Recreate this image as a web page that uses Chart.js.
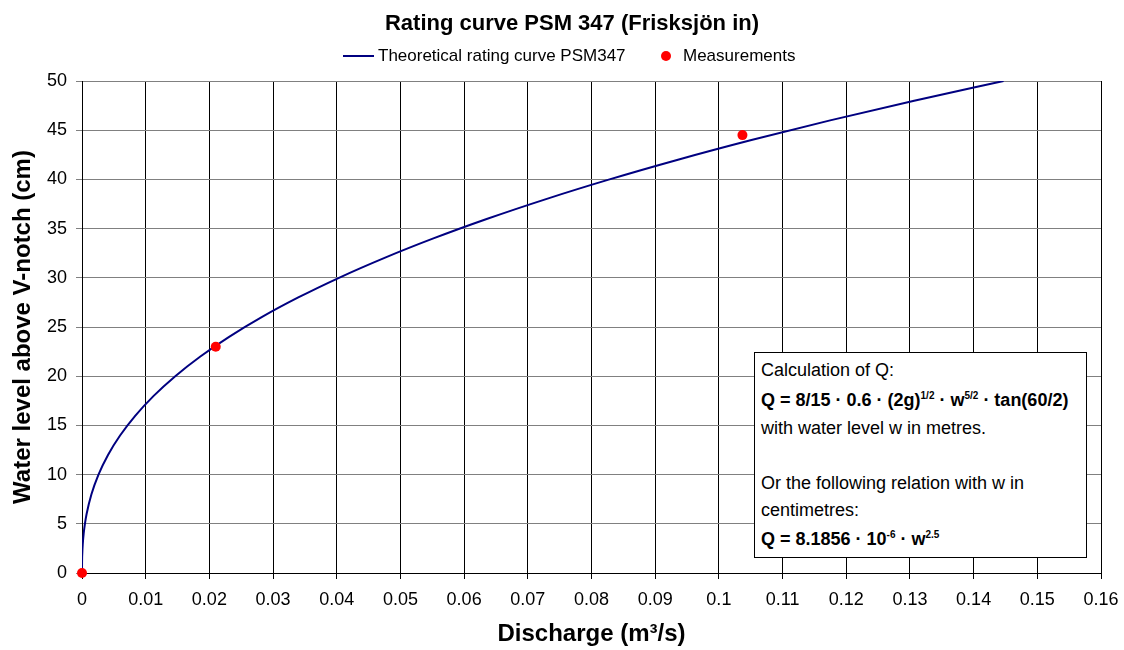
<!DOCTYPE html>
<html>
<head>
<meta charset="utf-8">
<script src="https://cdn.jsdelivr.net/npm/chart.js@4.4.1/dist/chart.umd.min.js"></script>
<style>
  html, body { margin: 0; padding: 0; background: #fff; }
  #wrap { position: relative; width: 1124px; height: 650px; font-family: "Liberation Sans", Arial, sans-serif; }
  #c { position: absolute; left: 0; top: 0; }
  #title { position: absolute; left: 20px; top: 10px; width: 1104px; height: 26px; line-height: 26px; text-align: center;
           font-size: 22px; font-weight: bold; color: #000; white-space: nowrap; }
  #legend { position: absolute; top: 45px; left: 0; width: 1124px; height: 22px; font-size: 17px; color: #000; }
  #legend .item { position: absolute; top: 0; line-height: 22px; white-space: nowrap; }
  #legend .line { position: absolute; top: 10px; width: 31px; height: 0; border-top: 2px solid #000080; }
  #legend .dot { position: absolute; top: 6px; width: 10px; height: 10px; border-radius: 50%; background: #ff0000; }
  #note { position: absolute; left: 754px; top: 352px; width: 331px; height: 204px; border: 1px solid #000; background: #fff;
          font-size: 18px; color: #000; box-sizing: content-box; }
  #note .ln { position: absolute; left: 6px; white-space: nowrap; }
  #note b { font-weight: bold; }
  #note sup { font-size: 10px; line-height: 0; vertical-align: 7px; }
</style>
</head>
<body>
<div id="wrap">
  <canvas id="c" width="1124" height="650"></canvas>
  <div id="title"></div>
  <div id="legend"></div>
  <div id="note">
    <div class="ln" style="top:2px;height:30px;line-height:30px;">Calculation of Q:</div>
    <div class="ln" style="top:32px;height:30px;line-height:30px;"><b>Q = 8/15 · 0.6 · (2g)<sup>1/2</sup> · w<sup>5/2</sup> · tan(60/2)</b></div>
    <div class="ln" style="top:62px;height:27px;line-height:27px;">with water level w in metres.</div>
    <div class="ln" style="top:116px;height:28px;line-height:28px;">Or the following relation with w in</div>
    <div class="ln" style="top:144px;height:26px;line-height:26px;">centimetres:</div>
    <div class="ln" style="top:170px;height:32px;line-height:32px;"><b>Q = 8.1856 · 10<sup>-6</sup> · w<sup>2.5</sup></b></div>
  </div>
</div>
<script>
// ---- Data ----
const titleText = "Rating curve PSM 347 (Frisksjön in)";
const xAxisTitle = "Discharge (m³/s)";
const yAxisTitle = "Water level above V-notch (cm)";
const seriesNames = ["Theoretical rating curve PSM347", "Measurements"];

// Theoretical rating curve: water level (cm) and discharge (m3/s)
const curveLevel = [0, 1, 2, 3, 4, 5, 6, 8, 10, 12, 14, 16, 18, 20, 22, 24, 26, 28, 30, 32, 34, 36, 38, 40, 42, 44, 46, 48, 50];
const curveQ = [0, 0.0000082, 0.0000463, 0.0001276, 0.0002619, 0.0004576, 0.0007218, 0.001482, 0.002588, 0.004083,
                0.006003, 0.008382, 0.011252, 0.014643, 0.018583, 0.023098, 0.028215, 0.033958, 0.040350, 0.047416,
                0.055176, 0.063651, 0.072864, 0.082832, 0.093576, 0.105116, 0.117470, 0.130663, 0.144703];

// Measurements
const measQ = [0, 0.0210, 0.1037];
const measLevel = [0, 23.0, 44.5];

// Tick labels
const xTickLabels = ["0", "0.01", "0.02", "0.03", "0.04", "0.05", "0.06", "0.07", "0.08", "0.09", "0.1", "0.11", "0.12", "0.13", "0.14", "0.15", "0.16"];
const yTickLabels = ["0", "5", "10", "15", "20", "25", "30", "35", "40", "45", "50"];

// ---- Title & legend (HTML) ----
const colors = ["#000080", "#ff0000"];
document.getElementById('title').textContent = titleText;
(function buildLegend() {
  const lg = document.getElementById('legend');
  const l1 = document.createElement('div'); l1.className = 'line'; l1.style.left = '343px'; l1.style.borderTopColor = colors[0];
  const t1 = document.createElement('div'); t1.className = 'item'; t1.style.left = '378px'; t1.textContent = seriesNames[0];
  const d2 = document.createElement('div'); d2.className = 'dot'; d2.style.left = '661px'; d2.style.background = colors[1];
  const t2 = document.createElement('div'); t2.className = 'item'; t2.style.left = '683px'; t2.textContent = seriesNames[1];
  [l1, t1, d2, t2].forEach(e => lg.appendChild(e));
})();

// ---- Chart ----
const FONT = "'Liberation Sans', Arial, sans-serif";
new Chart(document.getElementById('c'), {
  type: 'scatter',
  data: {
    datasets: [
      {
        label: seriesNames[0],
        data: curveQ.map((q, i) => ({ x: q, y: curveLevel[i] })),
        showLine: true,
        borderColor: colors[0],
        backgroundColor: colors[0],
        borderWidth: 2,
        pointRadius: 0,
        cubicInterpolationMode: 'monotone',
        order: 2
      },
      {
        label: seriesNames[1],
        data: measQ.map((q, i) => ({ x: q, y: measLevel[i] })),
        showLine: false,
        borderColor: colors[1],
        backgroundColor: colors[1],
        pointRadius: 5,
        pointBorderWidth: 0,
        clip: false,
        order: 1
      }
    ]
  },
  options: {
    responsive: false,
    animation: false,
    devicePixelRatio: 1,
    layout: { padding: { left: 0, right: 23, top: 81, bottom: 0 } },
    plugins: {
      legend: { display: false },
      tooltip: { enabled: false },
      title: { display: false }
    },
    scales: {
      x: {
        type: 'linear',
        min: 0,
        max: 0.16,
        ticks: {
          stepSize: 0.01,
          color: '#000',
          font: { family: FONT, size: 18 },
          padding: 10,
          maxRotation: 0,
          autoSkip: false,
          callback: (v, i) => xTickLabels[i]
        },
        grid: { color: '#000', lineWidth: 1, tickLength: 6, tickColor: '#000' },
        border: { color: '#000', width: 1 },
        title: {
          display: true,
          text: xAxisTitle,
          color: '#000',
          font: { family: FONT, size: 24, weight: 'bold' },
          padding: { top: 1, bottom: 1 }
        },
        afterFit: s => { s.height = 77; s.paddingLeft = 0; s.paddingRight = 0; }
      },
      y: {
        type: 'linear',
        min: 0,
        max: 50,
        ticks: {
          stepSize: 5,
          color: '#000',
          font: { family: FONT, size: 18 },
          padding: 9,
          callback: (v, i) => yTickLabels[i]
        },
        grid: { color: '#808080', lineWidth: 1, tickLength: 6, tickColor: '#808080' },
        border: { color: '#000', width: 1 },
        title: {
          display: true,
          text: yAxisTitle,
          color: '#000',
          font: { family: FONT, size: 24, weight: 'bold' },
          padding: { top: 9, bottom: 9 }
        },
        afterFit: s => { s.width = 82; }
      }
    }
  }
});
</script>
</body>
</html>
